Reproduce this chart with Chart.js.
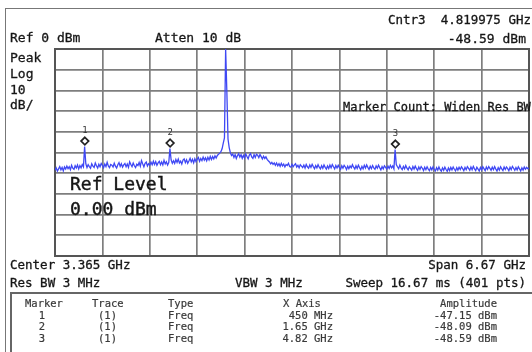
<!DOCTYPE html>
<html><head><meta charset="utf-8">
<script src="https://cdn.jsdelivr.net/npm/chart.js@4.4.1/dist/chart.umd.min.js"></script>
<style>
html,body{margin:0;padding:0;background:#fff;}
#wrap{position:relative;width:532px;height:352px;overflow:hidden;font-family:"DejaVu Sans Mono",monospace;color:#161616;background:#fff;}
#c{position:absolute;left:0;top:0;}
.t{position:absolute;white-space:pre;line-height:1;font-size:13px;-webkit-text-stroke:0.3px #161616;}
.s{font-size:12.5px;}
.big{font-size:18px;-webkit-text-stroke:0.4px #111;}
.tb{font-size:10.5px;color:#3a3a3a;-webkit-text-stroke:0.2px #3a3a3a;}
.frame{position:absolute;left:5px;top:8px;width:600px;height:400px;border-top:1.5px solid #777;border-left:1.5px solid #777;}
.box{position:absolute;left:10px;top:292px;width:600px;height:100px;border-top:2px solid #666;border-left:2px solid #666;}
</style></head>
<body>
<div id="wrap">
  <div class="frame"></div>
  <div class="box"></div>
  <canvas id="c" width="532" height="352"></canvas>

  <div class="t" style="left:10px;top:30.5px">Ref 0 dBm</div>
  <div class="t" style="left:155px;top:30.5px">Atten 10 dB</div>
  <div class="t s" style="right:1px;top:13.75px">Cntr3  4.819975 GHz</div>
  <div class="t" style="right:6px;top:31.5px">-48.59 dBm</div>
  <div class="t" style="left:10px;top:50.5px">Peak</div>
  <div class="t" style="left:10px;top:66.5px">Log</div>
  <div class="t" style="left:10px;top:82.5px">10</div>
  <div class="t" style="left:10px;top:97.5px">dB/</div>
  <div class="t" style="left:343px;top:101px;font-size:12px">Marker Count: Widen Res BW</div>
  <div class="t big" style="left:70px;top:175px">Ref Level</div>
  <div class="t big" style="left:70px;top:200px">0.00 dBm</div>
  <div class="t s" style="left:10px;top:258.75px">Center 3.365 GHz</div>
  <div class="t s" style="right:6px;top:258.75px">Span 6.67 GHz</div>
  <div class="t s" style="left:10px;top:276.75px">Res BW 3 MHz</div>
  <div class="t s" style="left:235px;top:276.75px">VBW 3 MHz</div>
  <div class="t s" style="right:6px;top:276.75px">Sweep 16.67 ms (401 pts)</div>

  <div class="t tb" style="left:25px;top:297.75px">Marker</div>
  <div class="t tb" style="left:92px;top:297.75px">Trace</div>
  <div class="t tb" style="left:168px;top:297.75px">Type</div>
  <div class="t tb" style="left:283px;top:297.75px">X Axis</div>
  <div class="t tb" style="right:35px;top:297.75px">Amplitude</div>
  <div id="rows"></div>
</div>
<script>
// ---- data ----
const startGHz = 0.03;
const stopGHz = 6.70;
const refLevel = 0;       // dBm (top of grid)
const bottomLevel = -100; // dBm (bottom of grid)
const yStep = 10;         // dB / div
const xDivisions = 10;

// trace, 401 points (dBm)
const trace = [
-58.6,-57.4,-59.0,-57.9,-56.8,-58.4,-57.2,-58.9,-57.0,-58.0,
-56.6,-57.8,-56.9,-58.3,-56.2,-57.6,-58.1,-56.4,-57.5,-56.0,
-57.9,-56.3,-57.4,-55.8,-56.9,-47.15,-55.4,-57.3,-55.9,-56.8,
-57.6,-55.5,-56.6,-57.2,-55.1,-56.4,-57.5,-55.7,-56.9,-55.3,
-56.2,-57.4,-55.6,-56.8,-54.7,-56.5,-57.3,-55.8,-56.1,-57.0,
-55.2,-56.6,-57.5,-55.9,-54.9,-56.7,-55.4,-57.1,-56.0,-55.3,
-56.9,-55.6,-57.2,-54.5,-55.8,-56.8,-55.1,-56.4,-57.3,-55.7,
-56.3,-54.8,-56.6,-53.9,-55.5,-56.9,-55.2,-54.6,-56.5,-55.4,
-56.1,-54.7,-55.9,-54.2,-55.8,-54.4,-56.2,-55.0,-54.3,-55.9,
-54.6,-56.0,-53.8,-55.5,-54.5,-56.1,-54.9,-48.09,-53.6,-55.2,
-54.0,-55.3,-53.4,-54.8,-53.2,-55.1,-54.2,-55.6,-53.7,-53.1,
-54.9,-53.5,-55.2,-54.1,-52.8,-54.6,-53.3,-55.0,-53.0,-54.4,
-53.2,-52.4,-54.3,-52.9,-53.9,-52.2,-53.7,-52.6,-54.0,-52.3,
-53.6,-51.9,-53.4,-52.0,-53.1,-51.6,-52.7,-51.4,-50.9,-50.3,
-49.6,-48.2,-45.5,-43.0,0,-20.0,-43.5,-47.6,-50.1,-51.5,
-50.8,-52.4,-51.0,-52.9,-51.5,-50.6,-52.2,-51.1,-52.8,-51.4,
-52.6,-50.7,-51.9,-53.0,-51.2,-50.5,-52.1,-52.8,-51.0,-52.4,
-50.9,-51.3,-52.5,-51.0,-52.0,-53.1,-51.8,-52.9,-52.1,-53.3,
-54.0,-54.6,-55.5,-54.8,-55.7,-55.0,-56.2,-55.1,-56.4,-55.4,
-56.7,-55.3,-56.5,-55.6,-57.0,-55.8,-56.3,-55.2,-56.8,-57.1,
-55.7,-56.9,-56.0,-55.4,-57.0,-56.2,-57.4,-55.9,-56.6,-57.3,
-56.1,-57.5,-55.8,-56.9,-57.6,-56.0,-57.2,-55.7,-56.8,-57.8,
-56.3,-57.4,-55.9,-57.1,-57.9,-56.4,-57.6,-56.0,-57.2,-58.0,
-56.5,-57.7,-56.1,-57.4,-55.8,-56.9,-57.9,-56.3,-57.5,-56.2,
-57.3,-58.1,-56.4,-57.6,-56.2,-57.0,-58.2,-56.6,-57.8,-56.5,
-57.4,-55.9,-57.1,-58.0,-56.4,-57.7,-56.1,-57.3,-58.3,-56.7,
-57.9,-56.2,-57.5,-56.0,-57.2,-58.2,-56.6,-57.8,-56.3,-57.4,
-58.1,-56.5,-57.6,-56.1,-57.3,-58.4,-56.8,-57.9,-56.4,-57.2,
-58.0,-56.6,-57.7,-56.2,-57.4,-56.5,-57.9,-48.59,-55.8,-56.9,
-57.8,-56.1,-57.5,-58.3,-56.7,-57.9,-56.3,-57.6,-58.4,-56.9,
-57.7,-58.5,-56.8,-58.0,-56.6,-57.8,-58.6,-57.0,-58.2,-56.8,
-57.6,-58.7,-57.1,-58.3,-56.9,-58.0,-58.8,-57.2,-58.4,-56.9,
-58.1,-58.9,-57.3,-58.5,-57.0,-58.3,-59.0,-57.4,-58.6,-57.1,
-58.2,-59.1,-57.5,-58.7,-57.2,-58.4,-57.0,-58.1,-58.9,-57.3,
-58.5,-57.1,-58.2,-56.9,-57.8,-58.8,-57.2,-58.3,-56.8,-57.7,
-58.6,-57.0,-58.3,-56.7,-57.9,-58.7,-57.1,-58.0,-58.9,-57.2,
-58.4,-56.9,-57.8,-58.8,-57.0,-58.2,-56.8,-57.7,-58.6,-57.1,
-58.3,-56.8,-58.0,-58.9,-57.3,-58.5,-56.9,-57.9,-58.7,-57.0,
-58.2,-57.0,-57.8,-58.8,-57.1,-58.3,-56.7,-57.6,-58.6,-57.3,
-58.4,-56.9,-57.9,-58.9,-57.4,-58.5,-57.0,-58.1,-57.2,-57.8,
-57.6
];

// markers
const markerLabels = ["1", "2", "3"];
const markerTraces = ["(1)", "(1)", "(1)"];
const markerTypes = ["Freq", "Freq", "Freq"];
const markerFreqGHz = [0.45, 1.65, 4.82];
const markerXText = ["450 MHz", "1.65 GHz", "4.82 GHz"];
const markerAmp = [-47.15, -48.09, -48.59];
const markerAmpText = ["-47.15 dBm", "-48.09 dBm", "-48.59 dBm"];

// ---- build ----
const stepGHz = (stopGHz - startGHz) / (trace.length - 1);
const points = trace.map((v, i) => ({ x: startGHz + i * stepGHz, y: v }));
const xGrid = [];
for (let k = 0; k <= xDivisions; k++) xGrid.push(startGHz + k * (stopGHz - startGHz) / xDivisions);

// marker table rows as text
const rowsEl = document.getElementById('rows');
const rowCenters = [315, 326.5, 338];
markerLabels.forEach((m, k) => {
  const top = rowCenters[k] - 5.25;
  const add = (txt, style) => {
    const d = document.createElement('div');
    d.className = 't tb';
    d.textContent = txt;
    d.setAttribute('style', style + ';top:' + top + 'px');
    rowsEl.appendChild(d);
  };
  add(m, 'left:36px;width:12px;text-align:center');
  add(markerTraces[k], 'left:98px');
  add(markerTypes[k], 'left:168px');
  add(markerXText[k], 'right:199px');
  add(markerAmpText[k], 'right:35px');
});

const framePlugin = {
  id: 'frame',
  beforeDatasetsDraw(chart) {
    const { ctx, chartArea: a } = chart;
    ctx.save();
    ctx.strokeStyle = '#555';
    ctx.lineWidth = 2;
    ctx.strokeRect(a.left, a.top, a.right - a.left, a.bottom - a.top);
    ctx.restore();
  }
};

const markerPlugin = {
  id: 'markers',
  afterDatasetsDraw(chart) {
    const { ctx, scales: { x, y } } = chart;
    ctx.save();
    markerFreqGHz.forEach((f, k) => {
      const px = x.getPixelForValue(f);
      const py = y.getPixelForValue(markerAmp[k]);
      const cy = py - 5.5;
      const r = 3.8;
      ctx.beginPath();
      ctx.moveTo(px, cy - r); ctx.lineTo(px + r, cy); ctx.lineTo(px, cy + r); ctx.lineTo(px - r, cy);
      ctx.closePath();
      ctx.fillStyle = '#fff'; ctx.fill();
      ctx.lineWidth = 1.7; ctx.strokeStyle = '#222'; ctx.stroke();
      ctx.fillStyle = '#333';
      ctx.font = '9px "DejaVu Sans Mono"';
      ctx.textAlign = 'center'; ctx.textBaseline = 'middle';
      ctx.fillText(markerLabels[k], px, py - 15.5);
    });
    ctx.restore();
  }
};

const gridOpts = { color: '#7e7e7e', lineWidth: 1.7, drawTicks: false };

new Chart(document.getElementById('c'), {
  type: 'line',
  data: {
    datasets: [{
      data: points,
      borderColor: '#3f48f4',
      borderWidth: 1.3,
      pointRadius: 0,
      tension: 0,
      fill: false
    }]
  },
  options: {
    responsive: false,
    animation: false,
    events: [],
    layout: { padding: { left: 55, right: 3, top: 49, bottom: 96 } },
    plugins: { legend: { display: false }, tooltip: { enabled: false }, title: { display: false } },
    scales: {
      x: {
        type: 'linear', min: startGHz, max: stopGHz,
        afterBuildTicks: s => { s.ticks = xGrid.map(v => ({ value: v })); },
        ticks: { display: false },
        grid: gridOpts,
        border: { display: false },
        afterFit: s => { s.height = 0; }
      },
      y: {
        min: bottomLevel, max: refLevel,
        ticks: { display: false, stepSize: yStep },
        grid: gridOpts,
        border: { display: false },
        afterFit: s => { s.width = 0; }
      }
    }
  },
  plugins: [framePlugin, markerPlugin]
});
</script>
</body></html>
